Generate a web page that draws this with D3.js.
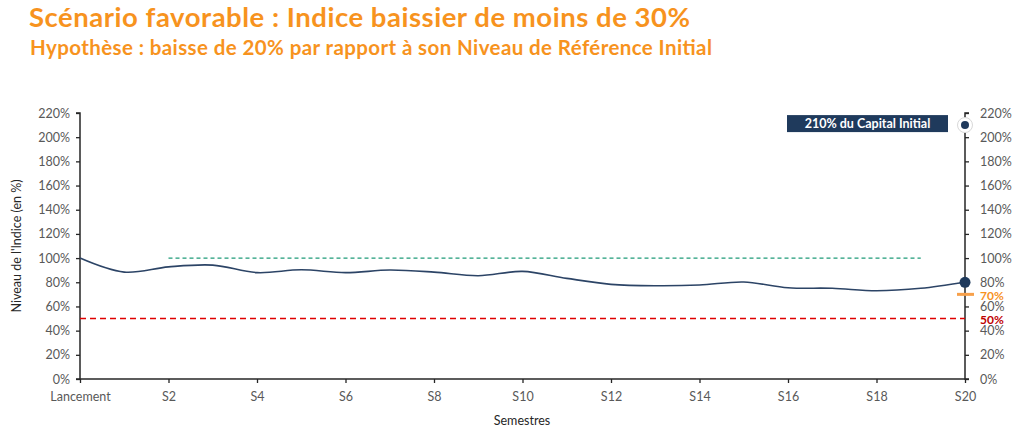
<!DOCTYPE html>
<html><head><meta charset="utf-8">
<script src="https://cdn.jsdelivr.net/npm/d3@7"></script>
<style>body{margin:0;background:#fff;} svg{display:block;font-family:Lato, "Open Sans", sans-serif;}</style>
</head><body>
<svg id="c" width="1024" height="441"></svg>
<script>
const categories = ["Lancement","S1","S2","S3","S4","S5","S6","S7","S8","S9","S10","S11","S12","S13","S14","S15","S16","S17","S18","S19","S20"];
const indexValues = [100,88.4,92.7,94.2,88,90.3,88,90.1,88.4,85.4,89,83.2,78.3,77.1,77.7,80.2,75.5,75,73,75,80];
const yTicks = [0,20,40,60,80,100,120,140,160,180,200,220];
const xTickLabels = ["Lancement","S2","S4","S6","S8","S10","S12","S14","S16","S18","S20"];
const autocallLevel = 100, autocallStart = "S2", autocallEnd = "S19";
const barrierLevel = 50;
const couponLevel = 70;
const finalPayout = 210;
const payoutLabel = "210% du Capital Initial";

const svg = d3.select("#c");
const L = 80, R = 965, T = 113, B = 379;
const x = d3.scalePoint().domain(categories).range([L, R]);
const y = d3.scaleLinear().domain([0, 220]).range([B, T]);

// titles
svg.append("text").attr("x", 29).attr("y", 27).attr("fill", "#F7931E")
  .attr("font-size", 27.5).attr("font-weight", 700)
  .attr("textLength", 661).attr("lengthAdjust", "spacing")
  .text("Scénario favorable : Indice baissier de moins de 30%");
svg.append("text").attr("x", 30).attr("y", 55).attr("fill", "#F7931E")
  .attr("font-size", 20.5).attr("font-weight", 700)
  .attr("textLength", 682).attr("lengthAdjust", "spacing")
  .text("Hypothèse : baisse de 20% par rapport à son Niveau de Référence Initial");

// axes
const fmt = d => d + "%";
const gl = svg.append("g").attr("transform", `translate(${L},0)`)
  .call(d3.axisLeft(y).tickValues(yTicks).tickFormat(fmt).tickSize(4).tickPadding(6));
const gr = svg.append("g").attr("transform", `translate(${R},0)`)
  .call(d3.axisRight(y).tickValues(yTicks).tickFormat(fmt).tickSize(4).tickPadding(11));
const gb = svg.append("g").attr("transform", `translate(0,${B})`)
  .call(d3.axisBottom(x).tickValues(xTickLabels).tickSize(4).tickPadding(9));
[gl, gr, gb].forEach(g => {
  g.select(".domain").attr("stroke", "#262626").attr("stroke-width", 1.5);
  g.selectAll(".tick line").attr("stroke", "#262626").attr("stroke-width", 1.3);
  g.selectAll(".tick text").attr("fill", "#595959").attr("font-size", 12.5).attr("font-family", "Lato, sans-serif");
});
gl.select(".domain").attr("d", `M-4,${T}H0V${B}H-4`);
gr.select(".domain").attr("d", `M4,${T}H0V${B}H4`);
gb.select(".domain").attr("d", `M${L},0H${R}`);

// axis titles
svg.append("text").attr("transform", `translate(21,246) rotate(-90)`).attr("text-anchor", "middle")
  .attr("font-size", 12.5).attr("fill", "#262626").text("Niveau de l'Indice (en %)");
svg.append("text").attr("x", 522).attr("y", 425).attr("text-anchor", "middle")
  .attr("font-size", 12.5).attr("fill", "#262626").text("Semestres");

// barrier 50%
svg.append("line").attr("x1", L).attr("x2", R).attr("y1", y(barrierLevel)).attr("y2", y(barrierLevel))
  .attr("stroke", "#E00000").attr("stroke-width", 1.5).attr("stroke-dasharray", "6,4");
// autocall level
svg.append("line").attr("x1", x(autocallStart)).attr("x2", x(autocallEnd)).attr("y1", y(autocallLevel)).attr("y2", y(autocallLevel))
  .attr("stroke", "#1E9B78").attr("stroke-width", 1.3).attr("stroke-dasharray", "4,3");

// index line
const line = d3.line().x((d, i) => x(categories[i])).y(d => y(d)).curve(d3.curveCatmullRom.alpha(0.5));
svg.append("path").datum(indexValues).attr("d", line).attr("fill", "none")
  .attr("stroke", "#2C4466").attr("stroke-width", 1.6);

// coupon mark 70%
svg.append("line").attr("x1", R - 8).attr("x2", R + 9).attr("y1", y(couponLevel)).attr("y2", y(couponLevel))
  .attr("stroke", "#F7A04A").attr("stroke-width", 3);

// labels 70% and 50%
svg.append("text").attr("x", R + 15).attr("y", y(couponLevel) + 6).attr("fill", "#F7931E")
  .attr("font-size", 12).attr("font-weight", 700).text(fmt(couponLevel));
svg.append("text").attr("x", R + 15).attr("y", y(barrierLevel) + 5).attr("fill", "#C00000")
  .attr("font-size", 12).attr("font-weight", 700).text(fmt(barrierLevel));

// final point
const last = categories[categories.length - 1];
svg.append("circle").attr("cx", x(last)).attr("cy", y(indexValues[indexValues.length - 1])).attr("r", 5.5).attr("fill", "#1F3A5C");

// payout point
svg.append("circle").attr("cx", x(last)).attr("cy", y(finalPayout)).attr("r", 7.5).attr("fill", "#fff")
  .attr("stroke", "#d8d8d8").attr("stroke-width", 1);
svg.append("circle").attr("cx", x(last)).attr("cy", y(finalPayout)).attr("r", 4).attr("fill", "#1F3A5C");

// payout label box
const bx = 787, bw = 161, bh = 17, by = y(finalPayout) - 10;
svg.append("rect").attr("x", bx).attr("y", by).attr("width", bw).attr("height", bh).attr("fill", "#1F3A5C");
svg.append("text").attr("x", bx + bw / 2).attr("y", by + 13).attr("text-anchor", "middle").attr("fill", "#fff")
  .attr("font-size", 12.5).attr("font-weight", 700).text(payoutLabel);
</script>
</body></html>
